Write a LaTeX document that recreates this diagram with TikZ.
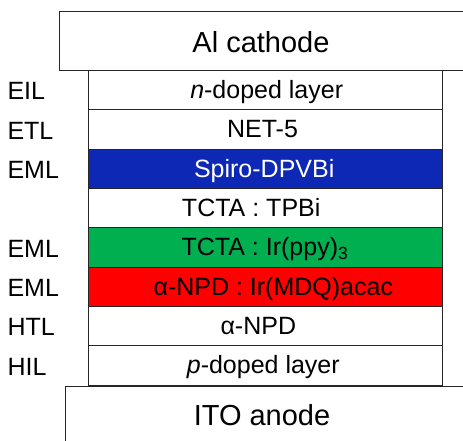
\documentclass[tikz,border=0pt]{standalone}
\usepackage{fontspec}
\setmainfont{Liberation Sans}
\definecolor{lblue}{RGB}{14,40,182}
\definecolor{lgreen}{RGB}{0,176,80}
\definecolor{lred}{RGB}{255,0,0}
\tikzset{
  edge/.style={draw=black!85, line width=1pt},
  box/.style={edge, rectangle, inner sep=0pt, anchor=north west},
  layerbox/.style={box, minimum width=353.4pt, minimum height=39.33pt},
  layertext/.style={inner sep=0pt, font=\fontsize{25}{29}\selectfont, text height=17.9pt, text depth=0pt},
  sidelabel/.style={inner sep=0pt, anchor=west, font=\fontsize{25}{29}\selectfont, text height=17.9pt, text depth=0pt},
  electrode/.style={inner sep=0pt, font=\fontsize{29}{33}\selectfont, text height=20.8pt, text depth=0pt}
}
\begin{document}
\begin{tikzpicture}[x=1pt,y=-1pt]
\useasboundingbox (0,0) rectangle (463,441);
\clip (0,0) rectangle (463,441);
% electrodes
\node[box, minimum width=420pt, minimum height=59.3pt] (cathode) at (59.3,10.7) {};
\node[electrode] (cathodetext) at (261,41.7) {Al cathode};
\node[box, minimum width=420pt, minimum height=70pt] (anode) at (65,385.7) {};
\node[electrode] (anodetext) at (262,415) {ITO anode};
% layers
\foreach \i/\col/\tcol/\tx/\txt in {
  1/white/black/266.7/{\textit{n}-doped layer},
  2/white/black/262.5/{NET-5},
  3/lblue/white/264.2/{Spiro-DPVBi},
  4/white/black/251.2/{TCTA : TPBi},
  5/lgreen/black/265/{TCTA : Ir(ppy)\textsubscript{3}},
  6/lred/black/273.3/{α-NPD : Ir(MDQ)acac},
  7/white/black/258.3/{α-NPD},
  8/white/black/263.3/{\textit{p}-doped layer}} {
  \pgfmathsetmacro{\ytop}{70+(\i-1)*39.33}
  \pgfmathsetmacro{\ymid}{\ytop+19.66}
  \node[layerbox, fill=\col] (layer\i) at (88.3,\ytop) {};
  \node[layertext, text=\tcol] (layertext\i) at (\tx,\ymid) {\txt};
}
% side labels
\foreach \i/\lab in {1/EIL,2/ETL,3/EML,5/EML,6/EML,7/HTL,8/HIL} {
  \pgfmathsetmacro{\ymid}{70+(\i-1)*39.33+19.66+1.3}
  \node[sidelabel] (side\i) at (7.3,\ymid) {\lab};
}
\end{tikzpicture}
\end{document}
